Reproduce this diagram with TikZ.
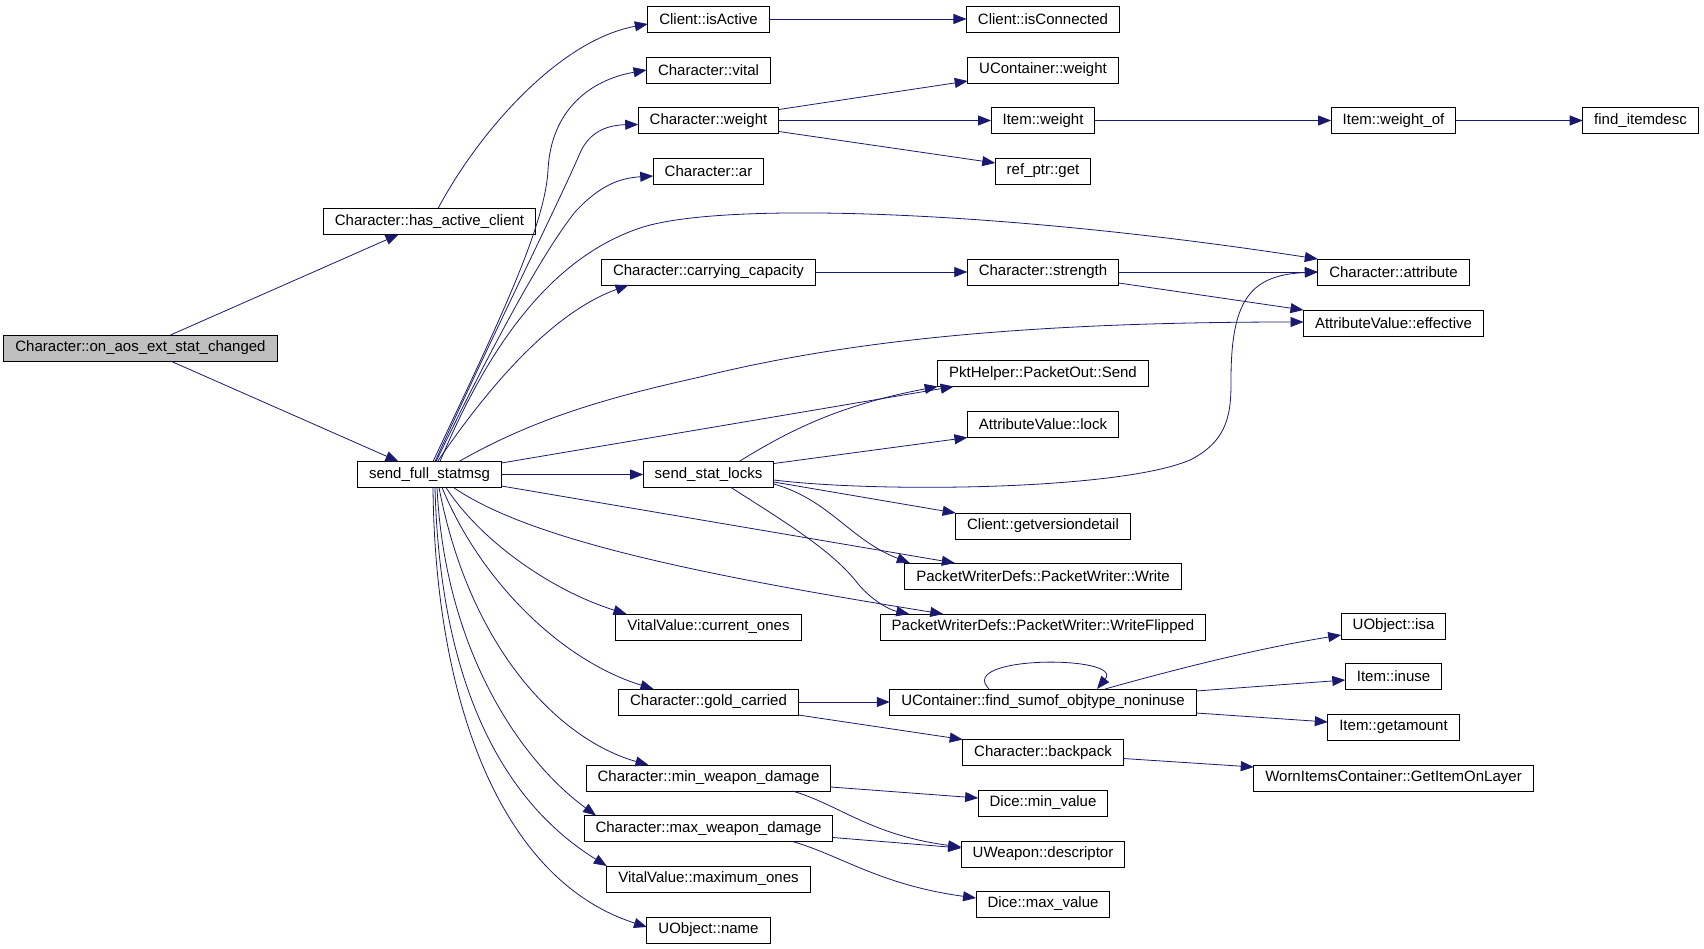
\documentclass[tikz,border=0pt]{standalone}
\usepackage{fontspec}
\setmainfont{Liberation Sans}
\usetikzlibrary{arrows.meta}
\definecolor{edgeblue}{RGB}{25,25,112}

\begin{document}
\begin{tikzpicture}[x=1pt,y=-1pt,
    fn/.style={draw,line width=1pt,minimum height=26pt,inner xsep=11.5pt,
      inner ysep=0pt,outer sep=0pt,font=\fontsize{15}{18}\selectfont},
    root/.style={fn,fill=black!25},
    call/.style={edgeblue,line width=0.8pt,-{Triangle[length=13pt,width=10pt]}}]
  \useasboundingbox (0,0) rectangle (1704,948);
  % functions
  \node[root] (onaos) at (140.5,348) {Character::on\_aos\_ext\_stat\_changed};
  \foreach \n/\x/\y/\t in {
      hasac/429.5/221.5/Character::has\_active\_client,
      sfs/429.5/474.5/send\_full\_statmsg,
      isactive/708.5/19/Client::isActive,
      vital/708.5/70/Character::vital,
      chweight/708.5/120.5/Character::weight,
      ar/708.5/171/Character::ar,
      carry/708.5/272/Character::carrying\_capacity,
      ssl/708.5/474.5/send\_stat\_locks,
      curones/708.5/627/VitalValue::current\_ones,
      gold/708.5/702/Character::gold\_carried,
      minwd/708.5/778/Character::min\_weapon\_damage,
      maxwd/708.5/828.5/Character::max\_weapon\_damage,
      maxones/708.5/879/VitalValue::maximum\_ones,
      uname/708.5/930/UObject::name,
      isconn/1043/19/Client::isConnected,
      ucweight/1043/70/UContainer::weight,
      itweight/1043/120.5/Item::weight,
      refget/1043/171/ref\_ptr::get,
      strength/1043/272/Character::strength,
      send/1043/373.5/PktHelper::PacketOut::Send,
      lock/1043/424.5/AttributeValue::lock,
      getver/1043/526/Client::getversiondetail,
      write/1043/576/PacketWriterDefs::PacketWriter::Write,
      wflip/1043/627/PacketWriterDefs::PacketWriter::WriteFlipped,
      findsum/1043/702/UContainer::find\_sumof\_objtype\_noninuse,
      backpack/1043/752.5/Character::backpack,
      minval/1043/803/Dice::min\_value,
      descr/1043/854/UWeapon::descriptor,
      maxval/1043/904/Dice::max\_value,
      weightof/1393.5/120.5/Item::weight\_of,
      attr/1393.5/272/Character::attribute,
      effective/1393.5/323/AttributeValue::effective,
      isa/1393.5/626/UObject::isa,
      inuse/1393.5/676/Item::inuse,
      getamount/1393.5/727/Item::getamount,
      getitem/1393.5/778/WornItemsContainer::GetItemOnLayer,
      finddesc/1640.5/120.5/find\_itemdesc}
    \node[fn] (\n) at (\x,\y) {\t};

  % straight calls
  \foreach \a/\b in {isactive/isconn, chweight/itweight, itweight/weightof,
      weightof/finddesc, carry/strength, strength/attr, sfs/ssl, gold/findsum}
    \draw[call] (\a) -- (\b);
  \draw[call] ([xshift=30pt]onaos.north) -- ([xshift=-31pt]hasac.south);
  \draw[call] ([xshift=30pt]onaos.south) -- ([xshift=-31pt]sfs.north);
  \draw[call] ([xshift=8.5pt]hasac.north) .. controls (480,130) and (560,40) .. ([yshift=-5pt]isactive.west);

  % send_full_statmsg, upwards
  \draw[call] ([xshift=3.5pt]sfs.north) .. controls (490,340) and (545,230) .. (548,170)
    .. controls (551,110) and (590,80) .. (vital.west);
  \draw[call] ([xshift=5.5pt]sfs.north) .. controls (495,330) and (560,200) .. (580,153)
    .. controls (590,130) and (610,125) .. ([yshift=-4pt]chweight.west);
  \draw[call] ([xshift=6.5pt]sfs.north) .. controls (500,330) and (545,250) .. (575,212)
    .. controls (600,185) and (620,178) .. ([yshift=-5pt]ar.west);
  \draw[call] ([xshift=8pt]sfs.north) .. controls (500,370) and (560,310) .. ([xshift=-80pt]carry.south);
  \draw[call] ([xshift=10.5pt]sfs.north) .. controls (495,330) and (560,255) .. (640,228)
    .. controls (720,201) and (1000,210) .. (attr.north west);
  \draw[call] ([xshift=29.5pt]sfs.north) .. controls (540,415) and (620,395) .. (700,377)
    .. controls (830,345) and (1000,322) .. ([yshift=1pt]effective.west);
  \draw[call] ([yshift=-1.5pt]sfs.north east) -- ([xshift=16pt]send.south west);
  \draw[call] ([yshift=1.5pt]sfs.south east) -- ([xshift=50pt]write.north west);

  % send_full_statmsg, downwards
  \draw[call] ([xshift=24pt]sfs.south) .. controls (530,540) and (700,575) .. ([xshift=63pt]wflip.north west);
  \draw[call] ([xshift=16.5pt]sfs.south) .. controls (480,540) and (550,590) .. ([xshift=-82pt]curones.north);
  \draw[call] ([xshift=12.5pt]sfs.south) .. controls (480,580) and (560,660) .. ([xshift=-55pt]gold.north);
  \draw[call] ([xshift=9.5pt]sfs.south) .. controls (470,650) and (560,740) .. ([xshift=-60pt]minwd.north);
  \draw[call] ([xshift=7.5pt]sfs.south) .. controls (445,650) and (520,760) .. ([xshift=12pt]maxwd.north west);
  \draw[call] ([xshift=5.5pt]sfs.south) .. controls (440,680) and (500,800) .. (maxones.north west);
  \draw[call] ([xshift=3.5pt]sfs.south) .. controls (435,700) and (500,880) .. ([yshift=3pt]uname.west);

  % second level
  \draw[call] ([yshift=-2pt]chweight.north east) -- ([yshift=2pt]ucweight.south west);
  \draw[call] ([yshift=2pt]chweight.south east) -- ([yshift=8pt]refget.west);
  \draw[call] ([yshift=2pt]strength.south east) -- (effective.north west);
  \draw[call] ([xshift=30.5pt]ssl.north) .. controls (790,430) and (840,405) .. (send.south west);
  \draw[call] ([yshift=-2pt]ssl.north east) -- (lock.south west);
  \draw[call] ([yshift=-5.5pt]ssl.east) .. controls (880,493) and (1120,490) .. (1190,460)
    .. controls (1230,440) and (1231,410) .. (1231,380)
    .. controls (1231,300) and (1250,275) .. (attr.west);
  \draw[call] ([yshift=-7.5pt]ssl.east) -- (getver.north west);
  \draw[call] ([yshift=-9.5pt]ssl.east) .. controls (830,500) and (850,540) .. ([xshift=5pt]write.north west);
  \draw[call] ([xshift=22.5pt]ssl.south) .. controls (790,525) and (830,550) .. (855,580)
    .. controls (870,600) and (890,610) .. ([xshift=29pt]wflip.north west);
  \draw[call] (gold.south east) -- (backpack.north west);
  \draw[call] ([xshift=-54pt]findsum.north) .. controls (955,655) and (1125,655) .. ([xshift=54pt]findsum.north);
  \draw[call] ([xshift=62pt]findsum.north) .. controls (1180,668) and (1260,648) .. ([yshift=4pt]isa.south west);
  \draw[call] ([yshift=-2pt]findsum.north east) -- ([yshift=-4pt]inuse.west);
  \draw[call] ([yshift=2pt]findsum.south east) -- ([yshift=5pt]getamount.west);
  \draw[call] ([yshift=-6pt]backpack.east) -- ([yshift=11pt]getitem.west);
  \draw[call] ([yshift=-9pt]minwd.east) -- ([yshift=5pt]minval.west);
  \draw[call] ([xshift=84pt]minwd.south) .. controls (840,805) and (870,835) .. ([yshift=7pt]descr.west);
  \draw[call] ([yshift=-9pt]maxwd.east) -- ([yshift=6pt]descr.west);
  \draw[call] ([xshift=84pt]maxwd.south) .. controls (840,855) and (880,885) .. ([yshift=6pt]maxval.west);
\end{tikzpicture}
\end{document}
